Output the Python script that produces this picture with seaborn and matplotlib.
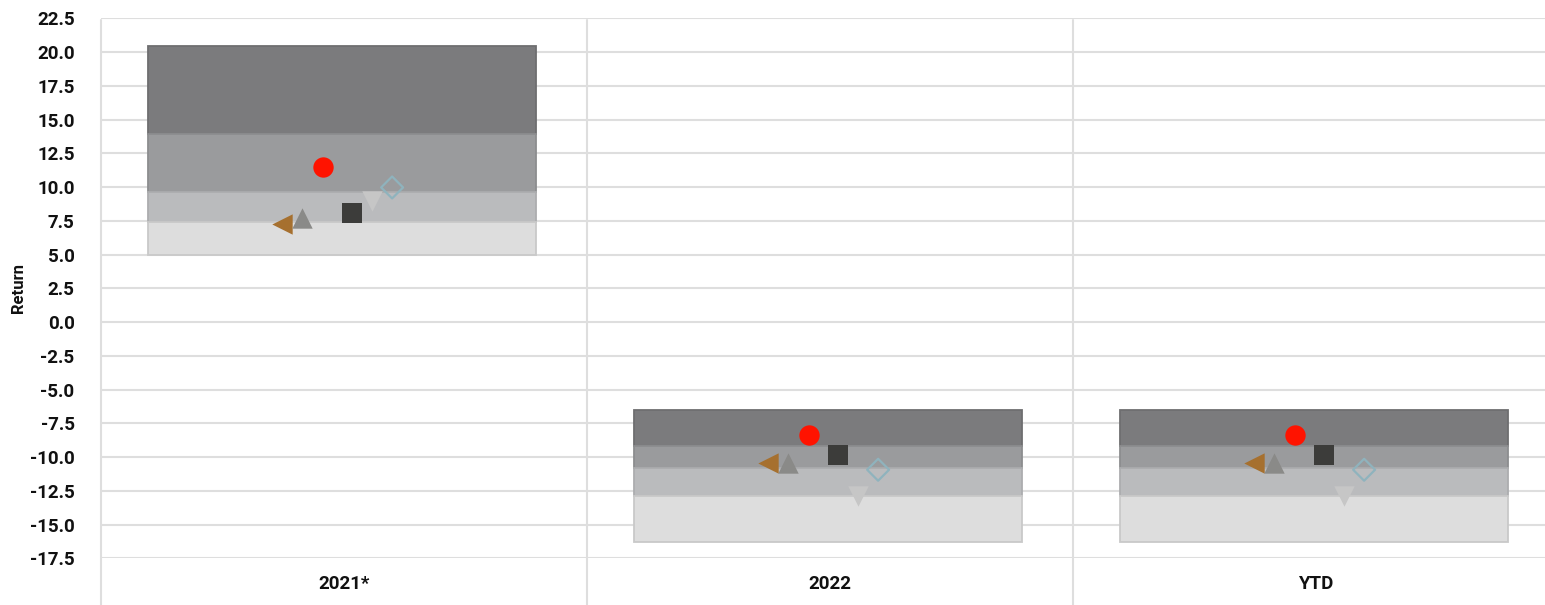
import numpy as np
import pandas as pd
import matplotlib
matplotlib.use("Agg")
import matplotlib.pyplot as plt
import seaborn as sns

# categories
periods = ["2021*", "2022", "YTD"]

# quartile band edges (top -> bottom)
band_top = [20.43, -6.53, -6.53]
band_q1 = [13.9, -9.17, -9.17]
band_q2 = [9.6, -10.8, -10.8]
band_q3 = [7.38, -12.87, -12.87]
band_bottom = [4.96, -16.32, -16.32]

# point series
fund = [11.45, -8.38, -8.38]
peer_left = [7.29, -10.47, -10.47]
peer_up = [7.73, -10.47, -10.47]
benchmark = [8.07, -9.86, -9.86]
peer_down = [9.0, -12.91, -12.91]
index_d = [9.97, -10.94, -10.94]

sns.set_theme(style="white")
plt.rcParams["font.family"] = ["Roboto", "DejaVu Sans"]

fig = plt.figure(figsize=(15.45, 6.05), dpi=100)
ax = fig.add_axes([101 / 1545, 46.7 / 605, 1 - 101 / 1545, 540 / 605])

grid_c = "#dedede"
x = np.arange(len(periods))

# bands
edges = [band_top, band_q1, band_q2, band_q3, band_bottom]
fills = ["#7b7b7d", "#9a9b9d", "#babbbd", "#dddddd"]
lines = ["#6e6e70", "#8c8d8f", "#acadaf", "#c9c9c9"]
for i in range(4):
    top = np.array(edges[i])
    bot = np.array(edges[i + 1])
    ax.bar(x - 0.004, top - bot, bottom=bot, width=0.8, color=fills[i],
           edgecolor=lines[i], linewidth=1.3, zorder=2)

# markers
styles = [
    ("peer_left", peer_left, "<", "#a6702f", -0.127, 215),
    ("peer_up", peer_up, "^", "#8a8a88", -0.086, 215),
    ("fund", fund, "o", "#ff1300", -0.044, 215),
    ("benchmark", benchmark, "s", "#3c3c3a", 0.017, 215),
    ("peer_down", peer_down, "v", "#c6c6c6", 0.058, 215),
]
for name, vals, mk, col, off, s in styles:
    df = pd.DataFrame({"x": x + off, "value": vals})
    sns.scatterplot(data=df, x="x", y="value", marker=mk, color=col, s=s,
                    linewidth=0, ax=ax, zorder=3)

df = pd.DataFrame({"x": x + 0.099, "value": index_d})
sns.scatterplot(data=df, x="x", y="value", marker="D", s=125,
                facecolor="none", edgecolor="#8fb3bd", linewidth=1.6,
                ax=ax, zorder=3)

ax.set_xlim(-0.5, -0.5 + 1444 / 486)
ax.set_ylim(-17.5, 22.5)
ax.set_yticks(np.arange(-17.5, 22.6, 2.5))
ax.set_yticklabels([f"{v:.1f}" for v in np.arange(-17.5, 22.6, 2.5)])
ax.set_xticks(x)
ax.set_xticklabels(periods)

ax.yaxis.grid(True, color=grid_c, linewidth=1.5, zorder=0)
ax.set_axisbelow(True)
for b in [-0.5, 0.5, 1.5]:
    ax.axvline(b, ymin=-0.087, ymax=0.996, color=grid_c, linewidth=1.5,
               clip_on=False, zorder=1)

for sp in ax.spines.values():
    sp.set_visible(False)

ax.tick_params(axis="y", length=11, width=1.5, color=grid_c, pad=8,
               labelsize=13.5, labelcolor="#111111")
ax.tick_params(axis="x", length=0, pad=12, labelsize=13.5, labelcolor="#111111")
for lab in ax.get_xticklabels() + ax.get_yticklabels():
    lab.set_fontweight("bold")

ax.set_xlabel("")
ax.set_ylabel("Return", fontsize=12, fontweight="bold", color="#111111",
              labelpad=3)

fig.savefig("out.png", dpi=100)
